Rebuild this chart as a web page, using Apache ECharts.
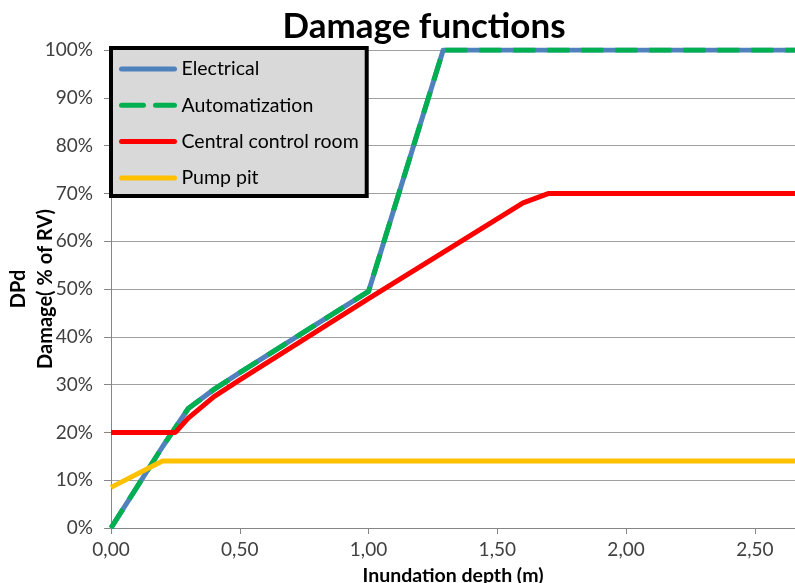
<!DOCTYPE html>
<html>
<head>
<meta charset="utf-8">
<script src="https://cdn.jsdelivr.net/npm/echarts@6/dist/echarts.min.js"></script>
<style>
html,body{margin:0;padding:0;background:#fff;}
#chart{width:795px;height:583px;}
</style>
</head>
<body>
<div id="chart"></div>
<script>
// Data (depth in m, damage in %)
const seriesNames = ['Electrical', 'Automatization', 'Central control room', 'Pump pit'];
const electricalX = [0, 0.1, 0.2, 0.3, 0.4, 0.5, 1.0, 1.29, 2.7];
const electricalY = [0, 8.5, 17, 25, 29, 32.5, 49.5, 100, 100];
const automatizationX = [0, 0.1, 0.2, 0.3, 0.4, 0.5, 1.0, 1.29, 2.7];
const automatizationY = [0, 8.5, 17, 25, 29, 32.5, 49.5, 100, 100];
const controlRoomX = [0, 0.25, 0.3, 0.4, 0.5, 1.0, 1.6, 1.7, 2.7];
const controlRoomY = [20, 20, 23, 27.5, 31, 48, 68, 70, 70];
const pumpPitX = [0, 0.2, 2.7];
const pumpPitY = [8.5, 14, 14];
const xTicks = [0, 0.5, 1.0, 1.5, 2.0, 2.5];

function pairs(xs, ys) { return xs.map((x, i) => [x, ys[i]]); }

const colors = ['#4F81BD', '#00B050', '#FF0000', '#FFC000'];
const dash = [22, 12];
const FONT = 'Lato';

const chart = echarts.init(document.getElementById('chart'));
chart.setOption({
  animation: false,
  textStyle: { fontFamily: FONT },
  title: {
    text: 'Damage functions',
    left: 419, top: 4,
    textAlign: 'center',
    textStyle: { fontFamily: FONT, fontWeight: 'bold', fontSize: 35, color: '#000' }
  },
  legend: {
    show: true,
    orient: 'vertical',
    left: 111, top: 48,
    backgroundColor: '#D9D9D9',
    borderColor: '#000',
    borderWidth: 4,
    borderRadius: 0,
    padding: [11, 8, 8, 8],
    itemWidth: 53,
    itemHeight: 18,
    itemGap: 16.3,
    itemStyle: { opacity: 0 },
    lineStyle: { width: 5, cap: 'round' },
    textStyle: { fontFamily: FONT, fontSize: 19.5, color: '#000', padding: [0, 0, 0, 2] },
    data: seriesNames.map((n, i) => i === 1
      ? { name: n, lineStyle: { width: 5, type: dash, cap: 'round' } }
      : { name: n })
  },
  grid: { left: 111, right: 0, top: 50, bottom: 55, outerBoundsMode: 'none', containLabel: false },
  xAxis: {
    type: 'value',
    min: 0, max: 2.656, interval: 0.5,
    name: 'Inundation depth (m)',
    nameLocation: 'middle',
    nameGap: 38,
    nameMoveOverlap: false,
    nameTextStyle: { fontFamily: FONT, fontWeight: 'bold', fontSize: 19.5, color: '#000' },
    axisLine: { show: true, lineStyle: { color: '#868686', width: 1 } },
    axisTick: { show: true, length: 6, lineStyle: { color: '#868686' }, customValues: xTicks },
    axisLabel: {
      customValues: xTicks,
      fontFamily: FONT, fontSize: 19, color: '#404040', margin: 12,
      formatter: v => v.toFixed(2).replace('.', ',')
    },
    splitLine: { show: false }
  },
  yAxis: {
    type: 'value',
    min: 0, max: 100, interval: 10,
    name: 'DPd\nDamage( % of RV)',
    nameLocation: 'middle',
    nameRotate: 90,
    nameGap: 52,
    nameMoveOverlap: false,
    nameTextStyle: { fontFamily: FONT, fontWeight: 'bold', fontSize: 20, color: '#000', lineHeight: 27, align: 'center' },
    axisLine: { show: true, lineStyle: { color: '#868686', width: 1 } },
    axisTick: { show: true, length: 7, lineStyle: { color: '#868686' } },
    axisLabel: {
      fontFamily: FONT, fontSize: 19, color: '#404040', margin: 18,
      formatter: v => v + '%'
    },
    splitLine: { show: true, lineStyle: { color: '#A0A0A0', width: 1 } }
  },
  series: [
    { name: seriesNames[0], type: 'line', data: pairs(electricalX, electricalY), symbol: 'none',
      lineStyle: { color: colors[0], width: 5, join: 'round' }, itemStyle: { color: colors[0] } },
    { name: seriesNames[1], type: 'line', data: pairs(automatizationX, automatizationY), symbol: 'none',
      lineStyle: { color: colors[1], width: 5, type: dash, join: 'round' }, itemStyle: { color: colors[1] } },
    { name: seriesNames[2], type: 'line', data: pairs(controlRoomX, controlRoomY), symbol: 'none',
      lineStyle: { color: colors[2], width: 5, join: 'round' }, itemStyle: { color: colors[2] } },
    { name: seriesNames[3], type: 'line', data: pairs(pumpPitX, pumpPitY), symbol: 'none',
      lineStyle: { color: colors[3], width: 5, join: 'round' }, itemStyle: { color: colors[3] } }
  ]
});
</script>
</body>
</html>
